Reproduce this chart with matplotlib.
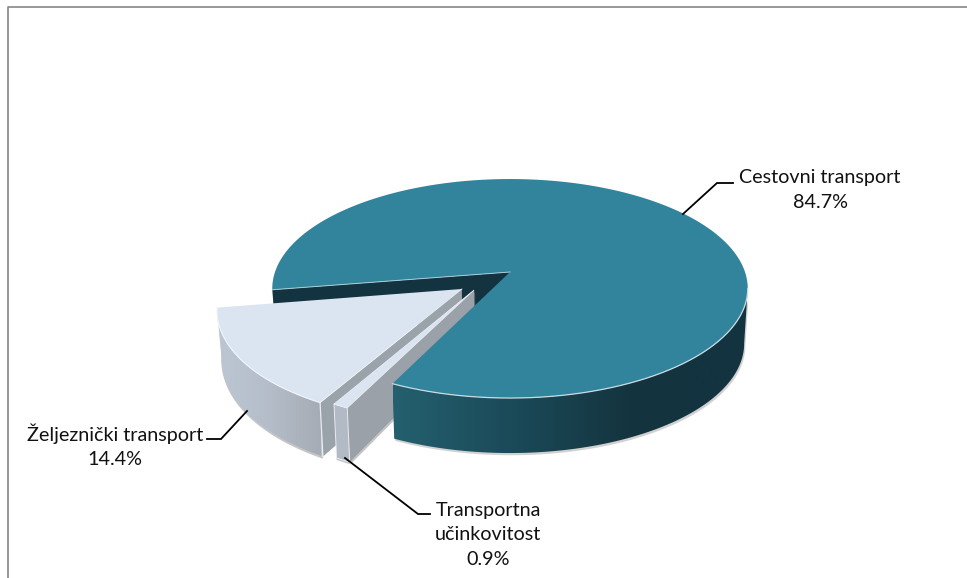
import numpy as np
import matplotlib
matplotlib.use("Agg")
import matplotlib.pyplot as plt
from matplotlib.patches import Polygon
from matplotlib.colors import LinearSegmentedColormap

categories = ["Cestovni transport", "Željeznički transport", "Transportna\nučinkovitost"]
shares = [84.7, 14.4, 0.9]

plt.rcParams["font.family"] = ["Lato", "DejaVu Sans"]

# layout of the tilted pie (pixels)
CX, CY, R, A, K = 510.0, 272.0, 235.0, 107.0, 0.151
SHRINK = 0.985
START = 244.4
OFFSETS = [(0.0, 0.0), (-0.20, -0.155), (-0.149, -0.164)]


def project(u, v, low=False, main=False):
    u, v = np.asarray(u, float), np.asarray(v, float)
    w = 1 + K * v
    x = CX + R * u / w
    y = CY - A * v / w
    if low:
        x = CX + (x - CX) * SHRINK
        y = y + (55.0 if main else 45.5 / w)
    return np.column_stack([np.atleast_1d(x), np.atleast_1d(y)])


def rim(t0, t1, off, low=False, n=160, main=False):
    t = np.radians(np.linspace(t0, t1, n))
    return project(np.cos(t) + off[0], np.sin(t) + off[1], low, main)


def gradient(ax, poly, stops, x0, x1, z):
    cmap = LinearSegmentedColormap.from_list("g", stops)
    im = ax.imshow(np.linspace(0, 1, 256)[None, :], cmap=cmap, aspect="auto",
                   extent=(x0, x1, 600, 0), zorder=z, interpolation="bilinear")
    patch = Polygon(poly, closed=True, transform=ax.transData, fc="none", ec="none")
    ax.add_patch(patch)
    im.set_clip_path(patch)


fig = plt.figure(figsize=(9.67, 5.78), dpi=100)
ax = fig.add_axes([0, 0, 1, 1])

# frame of the chart area
ax.plot([8, 8, 967], [578, 7, 7], color="#868686", lw=1.2, zorder=1)

# angles of each slice follow from the shares
spans = [s / sum(shares) * 360 for s in shares]
a0 = START
a1 = a0 + spans[0]
a2 = a1 + spans[1]
a3 = a2 + spans[2]
RIGHT_EDGE = 360 - np.degrees(np.arcsin(K))  # where the perspective ellipse is widest

apex = [project(*o) for o in OFFSETS]
apex_low = [project(*o, low=True) for o in OFFSETS]
SHADOW = dict(fc="#8c8c8c", ec="none", alpha=0.5)

# --- main slice: inner wall in the gap
p = rim(a1, a1, OFFSETS[0], n=1)
q = rim(a1, a1, OFFSETS[0], low=True, n=1)
ax.add_patch(Polygon(np.vstack([apex[0], p, q, apex_low[0]]), fc="#12333f", ec="none", zorder=2))

# --- rail slice
t = rim(a1, a2, OFFSETS[1])
b = rim(a1, a2, OFFSETS[1], low=True)
wall = np.vstack([t, b[::-1]])
ax.add_patch(Polygon(wall + [0, 2.2], zorder=3, **SHADOW))
p = rim(a2, a2, OFFSETS[1], n=1)
q = rim(a2, a2, OFFSETS[1], low=True, n=1)
side = np.vstack([apex[1], p, q, apex_low[1]])
ax.add_patch(Polygon(side, fc="#9aa2aa", ec="none", zorder=4))
gradient(ax, wall, ["#bdc7d4", "#b4bdc9", "#a6acb5"], t[:, 0].min(), t[:, 0].max(), 5)
ax.plot([p[0, 0], q[0, 0]], [p[0, 1], q[0, 1]], color="#e8ecf0", lw=0.9, zorder=6)
ax.add_patch(Polygon(np.vstack([apex[1], t]), fc="#dbe5f1", ec="none", zorder=7))
ax.plot(t[:, 0], t[:, 1], color="#f2f5f9", lw=0.8, zorder=8)
ax.plot(*np.vstack([t[-1], apex[1]]).T, color="#f2f5f9", lw=0.6, zorder=8)

# --- small slice
t = rim(a2, a3, OFFSETS[2], n=20)
b = rim(a2, a3, OFFSETS[2], low=True, n=20)
wall = np.vstack([t, b[::-1]])
side = np.vstack([apex[2], t[-1], b[-1], apex_low[2]])
ax.add_patch(Polygon(side + [1, 2], zorder=9, **SHADOW))
ax.add_patch(Polygon(wall + [0, 2], zorder=9, **SHADOW))
ax.add_patch(Polygon(side, fc="#9aa1a8", ec="none", zorder=10))
ax.add_patch(Polygon(wall, fc="#b2bac5", ec="#e8ecf0", lw=0.7, zorder=11))
ax.add_patch(Polygon(np.vstack([apex[2], t]), fc="#dbe5f1", ec="#eef2f7", lw=0.5, zorder=12))

# --- main slice: outer wall and top
t = rim(a0, RIGHT_EDGE, OFFSETS[0], n=240)
b = rim(a0, RIGHT_EDGE, OFFSETS[0], low=True, n=240, main=True)
wall = np.vstack([t, b[::-1]])
ax.add_patch(Polygon(wall + [1.2, 2.2], zorder=13, fc="#8c8c8c", ec="none", alpha=0.4))
gradient(ax, wall, ["#24606f", "#1b4a59", "#14343f", "#12333f"], 393, 750, 14)
top = rim(a0, a1, OFFSETS[0], n=400)
ax.add_patch(Polygon(np.vstack([apex[0], top]), fc="#31849b", ec="none", zorder=15))
front = rim(a0, RIGHT_EDGE, OFFSETS[0], n=200)
ax.plot(front[:, 0], front[:, 1], color="#c9dce2", lw=0.9, zorder=16)
ax.plot(*np.vstack([apex[0], top[-1]]).T, color="#a9cdd8", lw=0.7, zorder=16)

# --- leader lines and labels
LINE = dict(color="black", lw=1.3, zorder=20, solid_joinstyle="miter")
ax.plot([683, 717, 733], [214, 183, 183], **LINE)
ax.plot([247, 221, 207], [411, 439, 439], **LINE)
ax.plot([345, 418, 430], [458, 514, 514], **LINE)

TXT = dict(ha="center", va="center", fontsize=14.2, color="#111111", zorder=21, linespacing=1.52)
ax.text(820, 190, f"{categories[0]}\n{shares[0]}%", **TXT)
ax.text(115, 446, f"{categories[1]}\n{shares[1]}%", **TXT)
ax.text(488, 535, f"{categories[2]}\n{shares[2]}%", **TXT)

ax.set_xlim(0, 967)
ax.set_ylim(578, 0)
ax.axis("off")
fig.savefig("out.png", dpi=100, facecolor="white")
